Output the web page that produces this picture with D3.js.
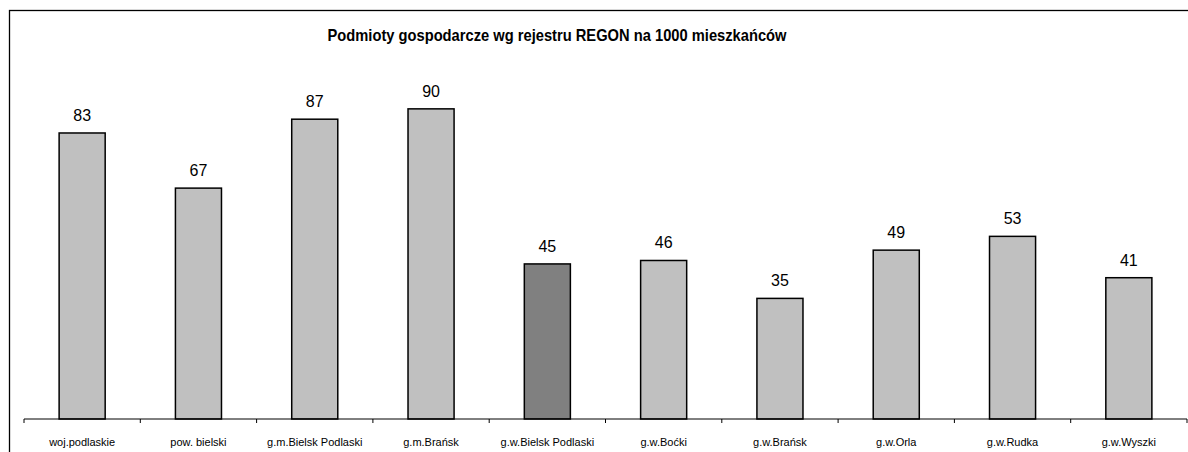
<!DOCTYPE html>
<html>
<head>
<meta charset="utf-8">
<script src="https://cdn.jsdelivr.net/npm/d3@7"></script>
<style>
  body { margin: 0; background: #fff; }
  svg { display: block; font-family: "Liberation Sans", Arial, sans-serif; }
</style>
</head>
<body>
<svg width="1188" height="452"></svg>
<script>
let categories = ["woj.podlaskie", "pow. bielski", "g.m.Bielsk Podlaski", "g.m.Brańsk",
  "g.w.Bielsk Podlaski", "g.w.Boćki", "g.w.Brańsk", "g.w.Orla", "g.w.Rudka", "g.w.Wyszki"];
let values = [83, 67, 87, 90, 45, 46, 35, 49, 53, 41];
let highlighted = ["g.w.Bielsk Podlaski"];
let title = "Podmioty gospodarcze wg rejestru REGON na 1000 mieszkańców";

let svg = d3.select("svg");

// chart frame (runs off the right and bottom edge)
svg.append("rect")
  .attr("x", 9.5).attr("y", 10.5)
  .attr("width", 1200).attr("height", 500)
  .style("fill", "none").style("stroke", "black").style("stroke-width", 1.3);

let x = d3.scaleBand()
  .domain(categories)
  .range([24, 1187])
  .paddingInner(0.604)
  .paddingOuter(0.302);

let y = d3.scaleLinear()
  .domain([0, 100])
  .range([419, 74.4]);

svg.append("text")
  .attr("x", 557).attr("y", 40.5)
  .attr("text-anchor", "middle")
  .attr("textLength", 459)
  .attr("lengthAdjust", "spacingAndGlyphs")
  .style("font-size", "16.5px")
  .style("font-weight", "bold")
  .text(title);

let data = categories.map((c, i) => ({cat: c, value: values[i]}));

svg.selectAll(".bar")
  .data(data)
  .enter().append("rect")
  .attr("class", "bar")
  .attr("x", d => x(d.cat))
  .attr("y", d => y(d.value))
  .attr("width", x.bandwidth())
  .attr("height", d => y(0) - y(d.value))
  .style("fill", d => highlighted.includes(d.cat) ? "#808080" : "#c0c0c0")
  .style("stroke", "black")
  .style("stroke-width", 1.5);

svg.selectAll(".val")
  .data(data)
  .enter().append("text")
  .attr("class", "val")
  .attr("x", d => x(d.cat) + x.bandwidth() / 2)
  .attr("y", d => y(d.value) - 12)
  .attr("text-anchor", "middle")
  .style("font-size", "16px")
  .text(d => d.value);

// category axis with ticks between bands
let axisY = 419;
svg.append("line")
  .attr("x1", 24).attr("x2", 1187)
  .attr("y1", axisY).attr("y2", axisY)
  .style("stroke", "black").style("stroke-width", 1);

let bounds = categories.map((c, i) => 24 + i * x.step());
bounds.push(1187);
svg.selectAll(".tick")
  .data(bounds)
  .enter().append("line")
  .attr("x1", d => d).attr("x2", d => d)
  .attr("y1", axisY).attr("y2", axisY + 4)
  .style("stroke", "black").style("stroke-width", 1);

svg.selectAll(".lbl")
  .data(categories)
  .enter().append("text")
  .attr("class", "lbl")
  .attr("x", d => x(d) + x.bandwidth() / 2)
  .attr("y", 446)
  .attr("text-anchor", "middle")
  .style("font-size", "11px")
  .text(d => d);
</script>
</body>
</html>
